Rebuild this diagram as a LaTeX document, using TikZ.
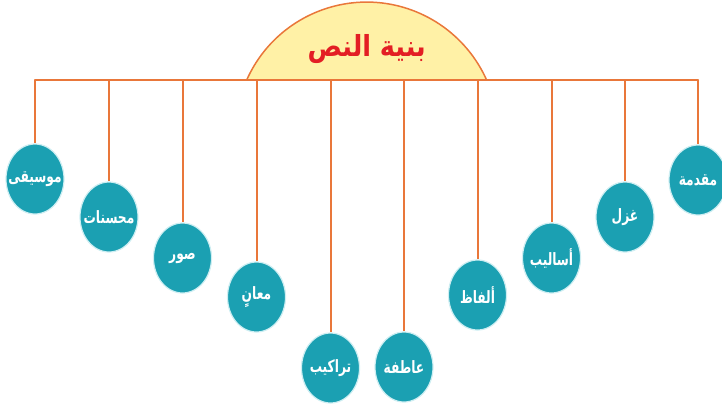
\documentclass[tikz,border=0pt]{standalone}
\usepackage{fontspec}
\usepackage{graphicx}
\usetikzlibrary{shapes.geometric}
\TeXXeTstate=1
\newfontfamily\arabicfont[Script=Arabic]{DejaVu Sans}
\definecolor{bubblefill}{HTML}{1BA0B2}
\definecolor{bubbleedge}{HTML}{CDEEF2}
\definecolor{linecol}{HTML}{E9773A}
\definecolor{domefill}{HTML}{FFF1A6}
\definecolor{titlered}{HTML}{E31E24}
\newcommand{\artxt}[1]{\makebox[40pt][c]{\scalebox{0.72}[1]{\beginR #1\endR}}}
\begin{document}
\begin{tikzpicture}[x=1pt,y=-1pt,
  bubble/.style={ellipse, fill=bubblefill, draw=bubbleedge, line width=1.2pt,
    minimum width=58pt, minimum height=70pt, inner sep=0pt, text=white,
    font=\arabicfont\bfseries\fontsize{17}{19}\selectfont},
  wire/.style={draw=linecol, line width=2pt},
  dome/.style={fill=domefill, draw=linecol, line width=1.5pt}]
\useasboundingbox (0,0) rectangle (722,407);
% dome
\draw[dome] (246.7,80) arc[start angle=-156, end angle=-24, radius=131.3] -- cycle;
\node[font=\arabicfont\bfseries\fontsize{29}{32}\selectfont, text=titlered] (title) at (366.7,49) {\scalebox{0.88}[1]{\beginR بنية النص\endR}};
% bar coordinates
\coordinate (b1) at (35,80);
\coordinate (b2) at (109,80);
\coordinate (b3) at (182.5,80);
\coordinate (b4) at (256.5,80);
\coordinate (b5) at (330.5,80);
\coordinate (b6) at (404,80);
\coordinate (b7) at (477.5,80);
\coordinate (b8) at (551.5,80);
\coordinate (b9) at (625,80);
\coordinate (b10) at (698,80);
\draw[wire, line cap=round] (b1) -- (b10);
% bubbles
\node[bubble] (n1) at (35,179) {\artxt{موسيقى}};
\node[bubble] (n2) at (109,217) {\artxt{محسنات}};
\node[bubble] (n3) at (182.5,258) {\artxt{صور}};
\node[bubble] (n4) at (256.5,297) {\artxt{معانٍ}};
\node[bubble] (n5) at (330.5,368) {\artxt{تراكيب}};
\node[bubble] (n6) at (404,367) {\artxt{عاطفة}};
\node[bubble] (n7) at (477.5,295) {\artxt{ألفاظ}};
\node[bubble] (n8) at (551.5,258) {\artxt{أساليب}};
\node[bubble] (n9) at (625,217) {\artxt{غزل}};
\node[bubble] (n10) at (698,180) {\artxt{مقدمة}};
% connectors
\foreach \i in {1,...,10} {\draw[wire] (b\i) -- (n\i.north);}
\end{tikzpicture}
\end{document}
